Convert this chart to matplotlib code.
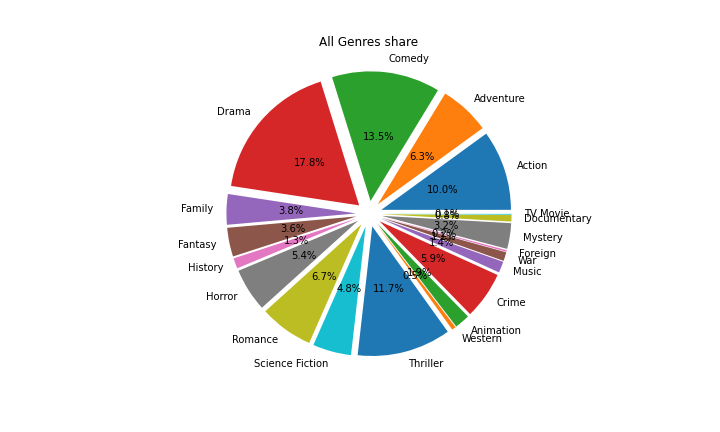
import matplotlib
matplotlib.use('Agg')
import matplotlib.pyplot as plt

genres = ['Action', 'Adventure', 'Comedy', 'Drama', 'Family', 'Fantasy',
	'History', 'Horror', 'Romance', 'Science Fiction', 'Thriller', 'Western',
	'Animation', 'Crime', 'Music', 'War', 'Foreign', 'Mystery', 'Documentary',
	'TV Movie']
share = [10.0, 6.3, 13.5, 17.8, 3.8, 3.6, 1.3, 5.4, 6.7, 4.8, 11.7, 0.5,
	1.9, 5.9, 1.4, 1.1, 0.2, 3.2, 0.8, 0.1]

fig = plt.figure(figsize=(10, 6), dpi=72)
ax = fig.add_axes([0.125, 0.13, 0.775, 0.75])
explode = [0.1] * len(share)
ax.pie(share, labels=genres, explode=explode, autopct='%1.1f%%',
	pctdistance=0.5)
ax.set_title('All Genres share')
fig.savefig('out.png', dpi=72)
